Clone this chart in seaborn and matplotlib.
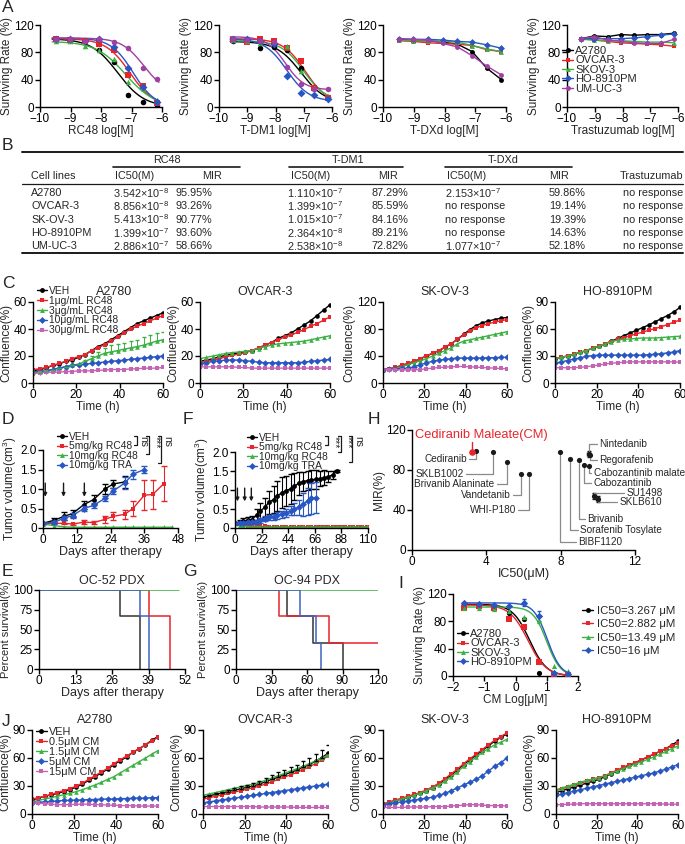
import numpy as np
import matplotlib
matplotlib.use('Agg')
import matplotlib.pyplot as plt
from matplotlib.lines import Line2D
import seaborn as sns

# ---------------- data ----------------
# A: dose response (log M)
a_lines = ['A2780', 'OVCAR-3', 'SKOV-3', 'HO-8910PM', 'UM-UC-3']
a_conc = [-9.49, -9.02, -8.54, -8.06, -7.58, -7.10, -6.63, -6.15]
rc48_rate = [[100, 98, 96, 83, 66, 18, 8, 3],
             [100, 98, 97, 92, 84, 47, 31, 6],
             [96, 96, 89, 83, 70, 36, 28, 10],
             [100, 99, 97, 99, 88, 57, 30, 7],
             [100, 99, 97, 100, 95, 87, 57, 41]]
rc48_fit = [(100, 0, -7.45, 1.0), (100, 0, -7.05, 1.1), (96, 0, -7.2, 0.9),
            (101, 0, -6.95, 1.2), (101, 20, -6.6, 1.2)]
tdm1_rate = [[97, 98, 86, 88, 84, 57, 30, 14],
             [98, 95, 99, 96, 86, 67, 28, 13],
             [98, 97, 94, 95, 90, 53, 28, 15],
             [100, 99, 97, 92, 46, 20, 17, 12],
             [99, 98, 97, 95, 58, 34, 27, 27]]
tdm1_fit = [(96, 5, -7.1, 1.0), (100, 5, -6.95, 1.1), (97, 8, -7.0, 1.1),
            (100, 8, -7.6, 1.1), (103, 25, -7.65, 1.3)]
tdxd_rate = [[99, 97, 97, 95, 92, 81, 57, 40],
             [97, 96, 94, 93, 92, 90, 84, 81],
             [98, 97, 97, 96, 95, 90, 85, 81],
             [100, 99, 99, 98, 96, 95, 91, 86],
             [100, 99, 98, 93, 88, 75, 60, 47]]
tras_rate = [[100, 104, 103, 106, 105, 106, 106, 108],
             [100, 98, 96, 94, 93, 92, 91, 89],
             [99, 98, 97, 97, 96, 95, 95, 94],
             [100, 100, 100, 100, 101, 103, 105, 107],
             [100, 103, 98, 96, 94, 93, 93, 99]]

# B: table
tbl_cells = ['A2780', 'OVCAR-3', 'SK-OV-3', 'HO-8910PM', 'UM-UC-3']
tbl_rc48_ic50 = ['3.542×10$^{-8}$', '8.856×10$^{-8}$', '5.413×10$^{-8}$', '1.399×10$^{-7}$', '2.886×10$^{-7}$']
tbl_rc48_mir = ['95.95%', '93.26%', '90.77%', '93.60%', '58.66%']
tbl_tdm1_ic50 = ['1.110×10$^{-7}$', '1.399×10$^{-7}$', '1.015×10$^{-7}$', '2.364×10$^{-8}$', '2.538×10$^{-8}$']
tbl_tdm1_mir = ['87.29%', '85.59%', '84.16%', '89.21%', '72.82%']
tbl_tdxd_ic50 = ['2.153×10$^{-7}$', 'no response', 'no response', 'no response', '1.077×10$^{-7}$']
tbl_tdxd_mir = ['59.86%', '19.14%', '19.39%', '14.63%', '52.18%']
tbl_tras = ['no response'] * 5

# C: confluence with RC48 (every 3 h)
conf_time = list(range(0, 61, 3))
c_labels = ['VEH', '1μg/mL RC48', '3μg/mL RC48', '10μg/mL RC48', '30μg/mL RC48']
c_a2780 = [[9, 10, 11, 13, 14, 16, 17, 19, 21, 24, 27, 29, 32, 35, 38, 41, 44, 46, 48, 50, 52],
           [10, 10.5, 11.5, 13, 14.5, 16, 18, 19.5, 21, 24, 26, 28.5, 31, 34, 37, 40, 42, 44, 46, 48, 50],
           [8, 8.5, 9, 10, 11, 12, 13, 14, 16, 18, 20, 22, 23, 24, 25, 26, 27, 28, 29.5, 31, 32],
           [8, 8.5, 9, 10, 11, 12, 13, 13.5, 14, 14.5, 15, 15.5, 16, 16.5, 17, 17.5, 18, 18.5, 19, 19.5, 20],
           [7, 7.5, 8, 8, 8, 8.5, 8.5, 9, 9, 9, 9.5, 9.5, 10, 10, 10, 10.5, 10.5, 11, 11, 11, 11.5]]
c_a2780_green_err = [0, 0, 0, 0, 0, 0, 0, 0, 1, 2, 3, 4, 5, 5, 5, 5, 5, 6, 6, 6, 6]
c_ovcar3 = [[16, 17, 18, 19.5, 20.5, 21.5, 22.5, 23, 24, 26, 28, 30, 33, 35, 37, 40, 43, 46, 50, 54, 58],
            [15, 16, 17, 18, 19.5, 20.5, 21.5, 22.5, 24, 26, 28, 30, 32, 34, 35.5, 37.5, 39.5, 42, 44, 46.5, 49],
            [18, 19, 20, 21, 22, 22.5, 23, 23.5, 24, 25.5, 27, 28, 29, 29.5, 30, 30.5, 31, 32, 33, 34, 35],
            [14, 15, 16, 16.5, 17, 17, 17, 16.5, 16, 15.5, 15, 15, 15, 15, 15, 15, 15.5, 16, 16.5, 17, 17.5],
            [12, 12, 12, 12, 12, 12, 11.5, 11.5, 11, 11, 11, 11, 11, 11, 11, 11, 11, 11, 11, 11, 11]]
c_skov3 = [[20, 21, 23, 26, 29, 32, 36, 40, 44, 48, 53, 58, 65, 72, 79, 85, 89, 92, 94, 96, 97],
           [20, 21, 23, 26, 29, 32, 36, 40, 44, 48, 53, 58, 65, 71, 77, 82, 85, 88, 90, 92, 94],
           [20, 21, 22, 24, 27, 30, 33, 36, 40, 44, 48, 52, 58, 62, 64, 66, 68, 70, 72, 74, 76],
           [20, 20.5, 21, 21.5, 22, 24, 27, 30, 32, 34, 35, 36, 37, 37, 37, 37, 37, 37.5, 37.5, 38, 38],
           [20, 20, 19.5, 19.5, 19, 19.5, 20, 21, 22, 23, 23.5, 24, 24.5, 24.5, 24, 23.5, 23, 22.5, 22, 21.5, 21]]
c_ho8910 = [[27, 28.5, 30, 32, 34, 36, 38.5, 41, 43.5, 46.5, 49.5, 52.5, 55.5, 58.5, 61.5, 64.5, 68, 71.5, 75, 79, 84],
            [27, 28.5, 30, 32, 34, 36, 38.5, 41, 43.5, 46, 48.5, 50.5, 52.5, 54.5, 56.5, 58.5, 60.5, 62.5, 65, 67.5, 70],
            [27, 28.5, 30, 32, 34, 36, 38.5, 41, 43.5, 46, 47.5, 48.5, 49, 49.5, 50, 50, 50, 50.5, 51, 51.5, 52],
            [22, 23.5, 25, 26.5, 28, 29.5, 30.5, 31, 31, 31, 31, 31, 31, 31, 31, 31.5, 32, 32.5, 33.5, 34.5, 36],
            [17, 17, 17, 17, 17.5, 18, 19, 20, 21, 22, 22.5, 23, 23.5, 23.5, 23.5, 23.5, 23.5, 23.5, 23.5, 23.5, 23]]

# D: OC xenograft tumour volume
d_labels = ['VEH', '5mg/kg RC48', '10mg/kg RC48', '10mg/kg TRA']
d_veh_days = [0, 4, 7.5, 10.5, 14.5, 18, 22, 25, 29]
d_veh = [0.12, 0.2, 0.3, 0.37, 0.6, 0.73, 1.0, 1.13, 1.18]
d_veh_err = [0.02, 0.06, 0.1, 0.1, 0.1, 0.12, 0.12, 0.1, 0.15]
d_rc5_days = [0, 4, 7.5, 10.5, 14.5, 18, 22, 25, 29, 32, 36, 39, 43]
d_rc5 = [0.12, 0.12, 0.12, 0.1, 0.15, 0.14, 0.22, 0.3, 0.35, 0.5, 0.84, 0.86, 1.14]
d_rc5_err = [0.02, 0.02, 0.02, 0.02, 0.05, 0.05, 0.08, 0.1, 0.12, 0.2, 0.38, 0.38, 0.45]
d_rc10_days = [0, 4, 7.5, 10.5, 14.5, 18, 22, 25, 29, 32, 36, 39, 43, 46]
d_rc10 = [0.1, 0.06, 0.03, 0.02, 0.02, 0.02, 0.02, 0.02, 0.02, 0.02, 0.02, 0.02, 0.02, 0.02]
d_tra_days = [0, 4, 7.5, 10.5, 14.5, 18, 22, 25, 29, 32, 36]
d_tra = [0.12, 0.15, 0.25, 0.32, 0.5, 0.58, 0.76, 0.95, 1.15, 1.38, 1.5]
d_tra_err = [0.02, 0.04, 0.05, 0.06, 0.06, 0.06, 0.06, 0.08, 0.15, 0.12, 0.1]
d_dosing = [0.8, 7.3, 14.7]

# F: PDX tumour volume
f_veh_days = [0, 4, 7, 11, 14, 18, 21, 25, 28, 32, 35, 39, 42, 46, 49, 53, 56, 60, 63, 67, 70, 74, 77, 81, 84]
f_veh = [0.12, 0.15, 0.18, 0.2, 0.22, 0.35, 0.45, 0.55, 0.68, 0.75, 0.85, 0.93, 0.98, 1.03, 1.1, 1.18,
         1.22, 1.25, 1.27, 1.28, 1.3, 1.32, 1.35, 1.4, 1.5]
f_veh_err = [0.03, 0.05, 0.08, 0.1, 0.1, 0.15, 0.2, 0.25, 0.3, 0.35, 0.4, 0.4, 0.4, 0.4, 0.35, 0.3,
             0.25, 0.25, 0.25, 0.25, 0.2, 0.2, 0.15, 0.1, 0.02]
f_tra_days = [0, 4, 7, 11, 14, 18, 21, 25, 28, 32, 35, 39, 42, 46, 49, 53, 56, 60, 63, 67]
f_tra = [0.12, 0.13, 0.14, 0.15, 0.15, 0.17, 0.2, 0.25, 0.28, 0.3, 0.33, 0.36, 0.4, 0.45, 0.5, 0.55,
         0.62, 0.7, 0.78, 0.8]
f_tra_err = [0.02, 0.03, 0.03, 0.04, 0.04, 0.05, 0.06, 0.06, 0.07, 0.08, 0.08, 0.1, 0.1, 0.12, 0.15, 0.2,
             0.3, 0.35, 0.4, 0.4]
f_rc_days = [0, 4, 7, 11, 14, 18, 21, 25, 28, 32, 35, 39, 42, 46, 49, 53, 56, 60, 63, 67, 70, 74, 77,
             81, 84, 88, 91, 95, 98, 102, 105, 109]
f_rc5 = [0.12, 0.1, 0.08, 0.06, 0.05, 0.04, 0.04, 0.04, 0.03, 0.03, 0.03, 0.03, 0.03, 0.03, 0.03, 0.03,
         0.03, 0.03, 0.03, 0.03, 0.03, 0.03, 0.03, 0.03, 0.03, 0.03, 0.03, 0.03, 0.03, 0.03, 0.03, 0.03]
f_rc10 = [0.12, 0.08, 0.05, 0.03, 0.02, 0.02, 0.02, 0.02, 0.02, 0.02, 0.02, 0.02, 0.02, 0.02, 0.02, 0.02,
          0.02, 0.02, 0.02, 0.02, 0.02, 0.02, 0.02, 0.02, 0.02, 0.02, 0.02, 0.02, 0.02, 0.02, 0.02, 0.02]
f_dosing = [2, 8, 13.5]

# E / G: survival (event days, percent)
e_days = [[0, 29, 36], [0, 39, 46.5], [0, 50], [0, 36, 39]]
e_surv = [[100, 66.7, 0], [100, 66.7, 0], [100, 100], [100, 66.7, 0]]
g_days = [[0, 43, 65, 90], [0, 36, 79, 120], [0, 120], [0, 54, 68, 72]]
g_surv = [[100, 66.7, 33.3, 0], [100, 66.7, 33.3, 33.3], [100, 100], [100, 66.7, 33.3, 0]]

# H: screen of inhibitors
h_drugs = ['Cediranib', 'SKLB1002', 'Brivanib Alaninate', 'Vandetanib', 'WHI-P180', 'BIBF1120',
           'Sorafenib Tosylate', 'Brivanib', 'Cabozantinib', 'Cabozantinib malate', 'Regorafenib',
           'Nintedanib', 'SU1498', 'SKLB610']
h_ic50 = [3.44, 4.35, 5.13, 5.88, 6.27, 7.97, 8.48, 8.98, 9.23, 9.52, 9.6, 9.52, 9.82, 10.0]
h_mir = [99, 97.7, 87.7, 75.7, 75.7, 97.7, 91, 90, 85, 84, 95, 96.5, 54, 50.7]
h_lab_x = [2.96, 2.8, 4.43, 5.29, 5.6, 8.96, 9.05, 9.44, 9.77, 9.77, 10.09, 10.09, 11.52, 11.16]
h_lab_y = [91, 76, 65.7, 55, 40, 8.3, 20, 30.7, 66.7, 76.7, 90, 105.7, 56.7, 47.7]
h_cm = (3.23, 98.3)

# I: CM dose response
i_lines = ['A2780', 'OVCAR-3', 'SKOV-3', 'HO-8910PM']
i_ic50_text = ['IC50=3.267 μM', 'IC50=2.882 μM', 'IC50=13.49 μM', 'IC50=16 μM']
i_conc = [-1.66, -1.17, -0.7, -0.21, 0.26, 0.75, 1.22, 1.69]
i_rate = [[105, 104, 101, 92, 83, 4, 1, 0],
          [100, 103, 100, 84, 72, 20, 2, 1],
          [100, 100, 98, 95, 86, 80, 14, 7],
          [107, 106, 104, 102, 107, 88, 5, 3]]
i_fit = [(105, 0, 0.45, 1.6), (104, 0, 0.4, 1.5), (101, 0, 1.0, 2.0), (107, 0, 1.02, 2.0)]

# J: confluence with CM (every 3 h)
j_labels = ['VEH', '0.5μM CM', '1.5μM CM', '5μM CM', '15μM CM']
j_a2780 = [[15, 17, 19, 20.5, 22, 24, 26, 29, 32, 36, 40, 44, 48, 53, 57, 61, 66, 70, 74, 79, 83],
           [16, 17.5, 19, 21, 23, 25, 27, 30, 33, 37, 41, 45, 49, 54, 58, 62, 66, 70, 74, 78, 82],
           [13, 14.5, 16, 17.5, 19, 20.5, 22, 24, 26, 28.5, 31, 34, 37, 40, 44, 48, 52, 56, 60, 64, 68],
           [12, 12.5, 13, 13.5, 14, 14.5, 14.5, 15, 15, 15.5, 15.5, 16, 16, 16, 16.5, 16.5, 17, 17, 17, 17.5, 17.5],
           [12, 11.5, 11, 10.5, 10, 10, 10, 10.5, 10.5, 10.5, 10, 10, 9.5, 9.5, 9, 9, 9, 8.5, 8.5, 8.5, 8.5]]
j_ovcar3 = [[18, 19.5, 21, 22.5, 24, 25.5, 27, 28.5, 30, 32, 34.5, 37, 39.5, 42, 44.5, 47, 50, 53, 56.5, 60.5, 65],
            [16, 17.5, 19, 20.5, 22, 23.5, 25, 26.5, 28, 30, 32, 34.5, 37, 39.5, 42, 44.5, 47.5, 50.5, 54, 58, 62],
            [20, 21.5, 23, 24.5, 26, 27.5, 29, 30.5, 32, 34, 36, 38.5, 41, 43.5, 46, 48.5, 51, 54, 57, 60, 63],
            [12, 13, 14, 15, 16, 17, 18, 19, 20, 21, 22, 23, 24, 25, 26, 27, 28, 29, 30, 31, 32],
            [8, 8, 8, 8, 8, 8, 8, 8, 8, 7.5, 7.5, 7.5, 7.5, 7.5, 7.5, 7, 7, 7, 7, 7, 7]]
j_ovcar3_veh_err = [1, 1, 1.5, 1.5, 2, 2, 2.5, 3, 3, 3.5, 4, 4.5, 5, 5, 5.5, 6, 6.5, 7, 7.5, 8, 8.5]
j_skov3 = [[10, 12, 14, 16, 18, 20, 22, 25, 28, 32, 37, 42, 47, 53, 58, 63, 68, 73, 78, 82, 86],
           [11, 13, 15, 17, 19, 21, 23, 26, 29, 33, 38, 43, 48, 54, 59, 64, 69, 74, 79, 83, 87],
           [10, 12, 14, 16, 18, 20, 22, 25, 28, 31, 35, 40, 45, 51, 56, 61, 66, 70, 74, 77, 80],
           [10, 11, 12, 13, 14, 15, 16, 17, 18, 20, 22, 25, 28, 31, 34, 37, 41, 46, 51, 55, 60],
           [7, 7, 7, 7, 7.5, 7.5, 7.5, 7.5, 8, 8, 8, 8.5, 9, 9.5, 10, 10, 9.5, 9, 9, 9, 8.5]]
j_ho8910 = [[23, 25, 27, 29, 31, 33, 35, 37, 40, 43, 46, 49, 52, 55, 58, 61, 64, 67, 70, 74, 78],
            [25, 27, 29, 31, 33, 35, 37, 39, 41, 44, 47, 50, 53, 55, 58, 61, 64, 67, 70, 73, 76],
            [26, 28, 30, 32, 34, 36, 37.5, 39, 41, 43.5, 46, 48.5, 51, 53.5, 56, 58.5, 61, 64, 67, 70, 73],
            [20, 21.5, 23, 24.5, 26, 27.5, 29, 30.5, 32, 33.5, 35, 36.5, 38, 39.5, 41, 42.5, 44, 46, 48, 50.5, 53],
            [10, 10, 10.5, 10.5, 11, 11, 11, 11, 11, 11, 11, 11, 11, 11, 11, 11, 11, 11, 10.5, 10.5, 10.5]]

# ---------------- style ----------------
sns.set_theme(style='ticks')
plt.rcParams['font.family'] = ['Liberation Sans', 'DejaVu Sans']
plt.rcParams['mathtext.default'] = 'regular'
plt.rcParams['axes.linewidth'] = 1.0
plt.rcParams['axes.edgecolor'] = 'black'
plt.rcParams['xtick.color'] = 'black'
plt.rcParams['ytick.color'] = 'black'

cols = ['#000000', '#e8252b', '#3bb143', '#2856c2', '#a040a0']
grp_cols = ['#000000', '#e8252b', '#3bb143', '#2856c2', '#c464b4']
mks = ['o', 's', '^', 'D', 'o']
grp_mks = ['o', 's', '^', 'D', 's']
FS = 8.5

W, H = 685, 844
fig = plt.figure(figsize=(6.85, 8.44), dpi=100)


def add_ax(x0, x1, y0, y1):
    return fig.add_axes([x0 / W, 1 - y1 / H, (x1 - x0) / W, (y1 - y0) / H])


def style(ax):
    sns.despine(ax=ax)
    ax.tick_params(labelsize=FS, length=3.5, width=1, pad=1)


def letter(s, x, y):
    fig.text(x / W, 1 - y / H, s, fontsize=12.5, va='center', ha='left')


def fline(xs, ys, **kw):
    fig.add_artist(Line2D([x / W for x in xs], [1 - y / H for y in ys], transform=fig.transFigure,
                          color=kw.get('color', 'k'), lw=kw.get('lw', 0.9)))


def ftext(s, x, y, **kw):
    fig.text(x / W, 1 - y / H, s, **kw)


def handles(colors, markers):
    return [Line2D([], [], color=c, marker=m, markersize=3.5, lw=1, markeredgewidth=0)
            for c, m in zip(colors, markers)]


def legend(ax, hs, labels, x, y, fs=8, sp=0.0):
    if ax.get_legend():
        ax.get_legend().remove()
    ax.legend(hs, labels, loc='upper left', bbox_to_anchor=(x / W, 1 - y / H),
              bbox_transform=fig.transFigure, frameon=False, fontsize=fs, handlelength=1.0,
              handletextpad=0.2, labelspacing=sp, borderpad=0, borderaxespad=0)


def logistic(x, top, bottom, logc, hill):
    x = np.asarray(x)
    return bottom + (top - bottom) / (1 + 10 ** ((x - logc) * hill))


# ---------------- A ----------------
letter('A', 2, 8)
a_pos = [(40, 162), (219, 332), (383, 506), (567, 678)]
a_data = [(rc48_rate, rc48_fit, 'RC48 log[M]'), (tdm1_rate, tdm1_fit, 'T-DM1 log[M]'),
          (tdxd_rate, None, 'T-DXd log[M]'), (tras_rate, None, 'Trastuzumab log[M]')]
xs_fit = np.linspace(-9.6, -6.1, 150)
for (x0, x1), (rates, fits, xl) in zip(a_pos, a_data):
    ax = add_ax(x0, x1, 25, 107)
    for i in range(5):
        if fits is not None:
            ax.plot(xs_fit, logistic(xs_fit, *fits[i]), color=cols[i], lw=1)
            sns.scatterplot(x=a_conc, y=rates[i], ax=ax, color=cols[i], marker=mks[i], s=16,
                            linewidth=0, zorder=3)
        else:
            sns.lineplot(x=a_conc, y=rates[i], ax=ax, color=cols[i], marker=mks[i], markersize=3.5,
                         markeredgewidth=0, lw=1)
    ax.set_xlim(-10, -6)
    ax.set_ylim(0, 120)
    ax.set_xticks([-10, -9, -8, -7, -6])
    ax.set_yticks([0, 40, 80, 120])
    ax.set_xlabel(xl, fontsize=FS, labelpad=0)
    ax.set_ylabel('Surviving Rate (%)', fontsize=FS, labelpad=1)
    style(ax)
legend(ax, handles(cols, mks), a_lines, 562, 46, fs=8, sp=-0.05)

# ---------------- B (table) ----------------
letter('B', 2, 145)
tab_fs = 7.8
fline([22, 683], [152, 152], lw=1.4)
fline([22, 683], [184, 184], lw=0.9)
fline([22, 683], [253, 253], lw=1.4)
for name, cx, (u0, u1) in [('RC48', 167, (113, 240)), ('T-DM1', 348, (289, 403)), ('T-DXd', 503, (445, 572))]:
    ftext(name, cx, 160, fontsize=tab_fs, ha='center', va='center')
    fline([u0, u1], [167, 167], lw=1.2)
col_x = [31, 113, 176, 287, 371, 445, 549, 683]
heads = ['Cell lines', 'IC50(M)', 'MIR', 'IC50(M)', 'MIR', 'IC50(M)', 'MIR', 'Trastuzumab']
head_x = [31, 115, 202, 291, 378, 447, 549, 683]
for k, (hx, hd) in enumerate(zip(head_x, heads)):
    ftext(hd, hx, 176, fontsize=tab_fs, ha='right' if k == 7 else 'left', va='center')
tbl_cols = [tbl_cells, tbl_rc48_ic50, tbl_rc48_mir, tbl_tdm1_ic50, tbl_tdm1_mir, tbl_tdxd_ic50,
            tbl_tdxd_mir, tbl_tras]
for k, (cx, colvals) in enumerate(zip(col_x, tbl_cols)):
    for r, v in enumerate(colvals):
        ftext(v, cx, 193 + 13.3 * r, fontsize=tab_fs, ha='right' if k == 7 else 'left', va='center')


# ---------------- C and J (confluence) ----------------
def confluence(ax, series, title, ylim, yticks, err=None):
    for i in range(5):
        sns.lineplot(x=conf_time, y=series[i], ax=ax, color=grp_cols[i], marker=grp_mks[i],
                     markersize=3.3, markeredgewidth=0, lw=1)
    if err is not None:
        k, e = err
        ax.errorbar(conf_time, series[k], yerr=[np.zeros(len(e)), e], fmt='none',
                    ecolor=grp_cols[k], elinewidth=0.7, capsize=1.5)
    if ax.get_legend():
        ax.get_legend().remove()
    ax.set_xlim(0, 60)
    ax.set_ylim(*ylim)
    ax.set_xticks([0, 20, 40, 60])
    ax.set_yticks(yticks)
    ax.set_title(title, fontsize=9, pad=5)
    ax.set_xlabel('Time (h)', fontsize=FS, labelpad=0)
    ax.set_ylabel('Confluence(%)', fontsize=FS, labelpad=1)
    style(ax)


letter('C', 2, 283)
c_pos = [(33, 163), (200, 330), (383, 507), (555, 680)]
c_sets = [(c_a2780, 'A2780', (0, 60), [0, 20, 40, 60], (2, c_a2780_green_err)),
          (c_ovcar3, 'OVCAR-3', (0, 60), [0, 20, 40, 60], None),
          (c_skov3, 'SK-OV-3', (0, 120), [0, 40, 80, 120], None),
          (c_ho8910, 'HO-8910PM', (0, 90), [0, 30, 60, 90], None)]
for k, ((x0, x1), (ser, ttl, yl, yt, er)) in enumerate(zip(c_pos, c_sets)):
    ax = add_ax(x0, x1, 302, 383)
    confluence(ax, ser, ttl, yl, yt, er)
    if k == 0:
        ax.title.set_position((0.62, 1.0))
        legend(ax, handles(grp_cols, grp_mks), c_labels, 37, 286, fs=7.4, sp=-0.02)

letter('J', 2, 722)
j_pos = [(32, 158), (203, 328), (383, 507), (556, 678)]
j_sets = [(j_a2780, 'A2780', None), (j_ovcar3, 'OVCAR-3', (0, j_ovcar3_veh_err)),
          (j_skov3, 'SK-OV-3', None), (j_ho8910, 'HO-8910PM', None)]
for k, ((x0, x1), (ser, ttl, er)) in enumerate(zip(j_pos, j_sets)):
    ax = add_ax(x0, x1, 730, 814)
    confluence(ax, ser, ttl, (0, 90), [0, 30, 60, 90], er)
    if k == 0:
        legend(ax, handles(grp_cols, grp_mks), j_labels, 36, 727, fs=7.8, sp=0.0)


# ---------------- D and F (tumour volume) ----------------
def tumour(ax, groups, dosing, arrow_top, arrow_bot):
    for (days, vals, err), c, m in zip(groups, grp_cols[:4], mks[:4]):
        sns.lineplot(x=days, y=vals, ax=ax, color=c, marker=m, markersize=3.5, markeredgewidth=0, lw=1)
        if err is not None:
            ax.errorbar(days, vals, yerr=err, fmt='none', ecolor=c, elinewidth=0.8, capsize=2)
    if ax.get_legend():
        ax.get_legend().remove()
    for d in dosing:
        ax.annotate('', xy=(d, arrow_bot), xytext=(d, arrow_top),
                    arrowprops=dict(arrowstyle='-|>', color='k', lw=1, mutation_scale=5,
                                    shrinkA=0, shrinkB=0))
    ax.set_ylim(0, 2.0)
    ax.set_yticks([0, 0.5, 1.0, 1.5, 2.0])
    ax.set_yticklabels(['0', '0.5', '1.0', '1.5', '2.0'])
    ax.set_xlabel('Days after therapy', fontsize=9, labelpad=0)
    ax.set_ylabel('Tumor volume(cm$^{3}$)', fontsize=FS, labelpad=1)
    style(ax)


letter('D', 2, 420)
ax = add_ax(43, 178, 450, 528)
tumour(ax, [(d_veh_days, d_veh, d_veh_err), (d_rc5_days, d_rc5, d_rc5_err),
            (d_rc10_days, d_rc10, None), (d_tra_days, d_tra, d_tra_err)], d_dosing, 1.15, 0.8)
ax.set_xlim(0, 48)
ax.set_xticks([0, 12, 24, 36, 48])
legend(ax, handles(grp_cols[:4], mks[:4]), d_labels, 57, 432, fs=7.4, sp=-0.05)
for (bx, yb, txt) in [(137, 445, 'ns'), (149, 454, '***'), (161, 463, 'ns')]:
    fline([bx - 3, bx, bx, bx - 3], [436, 436, yb, yb])
    ftext(txt, bx + 1.5, 436, fontsize=7.5, rotation=-90, ha='left', va='top')

letter('F', 183, 420)
ax = add_ax(235, 368, 452, 528)
tumour(ax, [(f_veh_days, f_veh, f_veh_err), (f_rc_days, f_rc5, None),
            (f_rc_days, f_rc10, None), (f_tra_days, f_tra, f_tra_err)], f_dosing, 1.05, 0.7)
ax.set_xlim(0, 110)
ax.set_xticks([0, 22, 44, 66, 88, 110])
legend(ax, handles(grp_cols[:4], mks[:4]), d_labels, 247, 433, fs=7.4, sp=-0.05)
for (bx, yb, txt) in [(328, 445, '***'), (341, 452, '***'), (352, 462, 'ns')]:
    fline([bx - 3, bx, bx, bx - 3], [436, 436, yb, yb])
    ftext(txt, bx + 1.5, 436, fontsize=7.5, rotation=-90, ha='left', va='top')


# ---------------- E and G (survival) ----------------
surv_cols = ['#333333', '#e8252b', '#3bb143', '#3f63c0']


def survival(ax, days, surv, xmax, xticks, title):
    for dd, ss, c in zip(days, surv, surv_cols):
        ax.step(dd, ss, where='post', color=c, lw=1.1)
    ax.set_xlim(0, xmax)
    ax.set_ylim(0, 100)
    ax.set_xticks(xticks)
    ax.set_yticks([0, 25, 50, 75, 100])
    ax.set_title(title, fontsize=9, pad=4)
    ax.set_xlabel('Days after therapy', fontsize=9, labelpad=0)
    ax.set_ylabel('Percent survival(%)', fontsize=8, labelpad=1)
    style(ax)


letter('E', 2, 572)
ax = add_ax(39, 185, 590, 669)
survival(ax, e_days, e_surv, 52, [0, 13, 26, 39, 52], 'OC-52 PDX')
letter('G', 183, 572)
ax = add_ax(236, 378, 590, 669)
survival(ax, g_days, g_surv, 120, [0, 30, 60, 90, 120], 'OC-94 PDX')

# ---------------- H (screen) ----------------
letter('H', 368, 420)
ax = add_ax(412, 635, 430, 550)
sns.scatterplot(x=h_ic50, y=h_mir, ax=ax, color='k', s=14, linewidth=0, zorder=3)
ax.errorbar([9.52, 9.82, 10.0], [96.5, 54, 50.7], xerr=[0.08, 0.1, 0.08], yerr=[3, 3, 3],
            fmt='none', ecolor='k', elinewidth=0.8, capsize=1.5)
ax.scatter([h_cm[0]], [h_cm[1]], color='#e8252b', s=14, zorder=4)
ax.plot([h_cm[0], h_cm[0]], [101.5, 108], color='#e8252b', lw=1)
ax.text(3.75, 115, 'Cediranib Maleate(CM)', color='#e8252b', fontsize=9.3, ha='center', va='center')
for name, px, py, lx, ly in zip(h_drugs, h_ic50, h_mir, h_lab_x, h_lab_y):
    right = lx < px
    gap = 0.12 if right else -0.12
    yend = py - 3 if ly < py else py + 3
    ax.plot([lx + gap, px, px], [ly, ly, yend], color='#8a8a8a', lw=0.9, clip_on=False)
    ax.text(lx, ly, name, fontsize=7.2, ha='right' if right else 'left', va='center', clip_on=False)
ax.set_xlim(0, 12)
ax.set_ylim(0, 120)
ax.set_xticks([0, 4, 8, 12])
ax.set_yticks([0, 40, 80, 120])
ax.set_xlabel('IC50(μM)', fontsize=9, labelpad=0)
ax.set_ylabel('MIR(%)', fontsize=FS, labelpad=1)
style(ax)

# ---------------- I (CM dose response) ----------------
letter('I', 398, 583)
ax = add_ax(453, 578, 594, 676)
xs_i = np.linspace(-1.7, 1.75, 150)
for k in range(4):
    ax.plot(xs_i, logistic(xs_i, *i_fit[k]), color=cols[k], lw=1)
    sns.scatterplot(x=i_conc, y=i_rate[k], ax=ax, color=cols[k], marker=mks[k], s=14, linewidth=0,
                    zorder=3)
ax.errorbar([0.26, 0.75], [107, 88], yerr=[5, 7], fmt='none', ecolor=cols[3], elinewidth=0.8,
            capsize=1.5)
ax.set_xlim(-2, 2)
ax.set_ylim(0, 120)
ax.set_xticks([-2, -1, 0, 1, 2])
ax.set_yticks([0, 40, 80, 120])
ax.set_xlabel('CM Log[μM]', fontsize=FS, labelpad=0)
ax.set_ylabel('Surviving Rate (%)', fontsize=FS, labelpad=1)
style(ax)
leg1 = ax.legend(handles(cols[:4], mks[:4]), i_lines, loc='upper left', bbox_to_anchor=(457 / W, 1 - 629 / H),
                 bbox_transform=fig.transFigure, frameon=False, fontsize=8, handlelength=1.0,
                 handletextpad=0.2, labelspacing=-0.05, borderpad=0, borderaxespad=0)
ax.add_artist(leg1)
ax.legend(handles(cols[:4], mks[:4]), i_ic50_text, loc='upper left', bbox_to_anchor=(582 / W, 1 - 606 / H),
          bbox_transform=fig.transFigure, frameon=False, fontsize=8.2, handlelength=1.0,
          handletextpad=0.3, labelspacing=0.3, borderpad=0, borderaxespad=0)

fig.savefig('out.png', dpi=100)
